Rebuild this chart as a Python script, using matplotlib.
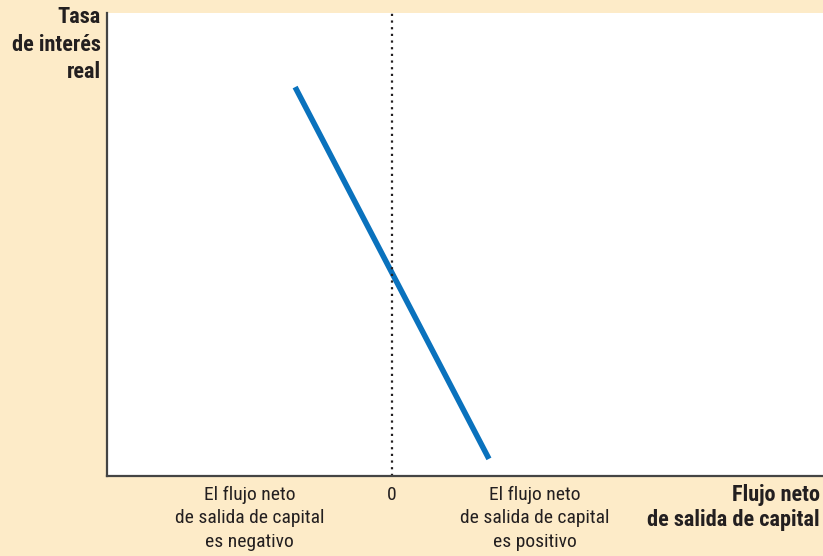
import matplotlib
matplotlib.use("Agg")
import matplotlib.pyplot as plt
from matplotlib import font_manager

# === Data ===
net_outflow = [-0.34, 0.34]
real_rate = [8.4, 0.37]
tick_pos = [-0.5, 0, 0.5]
tick_labels = ["El flujo neto\nde salida de capital\nes negativo", "0",
               "El flujo neto\nde salida de capital\nes positivo"]

BG = "#fdebc8"
BLUE = "#0a72bd"
AXIS = "#444444"
TEXT = "#231f20"

names = {f.name for f in font_manager.fontManager.ttflist}
FONT = "DejaVu Sans"
for cand in ["Roboto Condensed", "Liberation Sans Narrow", "Open Sans Condensed", "Roboto"]:
    if cand in names:
        FONT = cand
        break
plt.rcParams["font.family"] = [FONT, "DejaVu Sans"]

fig = plt.figure(figsize=(8.23, 5.56), dpi=100, facecolor=BG)
ax = fig.add_axes([107 / 823, 1 - 476 / 556, (823 - 107) / 823, (476 - 13) / 556])
ax.set_facecolor("white")

ax.plot(net_outflow, real_rate, color=BLUE, lw=4, solid_capstyle="butt")
ax.axvline(0, color=TEXT, lw=1.6, ls=(0, (1, 2)))

ax.set_xlim(-1, 1.512)
ax.set_ylim(0, 10)
ax.set_xticks(tick_pos)
ax.set_xticklabels(tick_labels, fontsize=14, color=TEXT, linespacing=1.4, va="top")
ax.tick_params(axis="x", length=0, pad=7)
ax.set_yticks([])

for side in ["top", "right"]:
    ax.spines[side].set_visible(False)
for side in ["left", "bottom"]:
    ax.spines[side].set_color(AXIS)
    ax.spines[side].set_linewidth(1.6)

fig.text(101 / 823, 1 - 6 / 556, "Tasa\nde interés\nreal", ha="right", va="top",
         fontsize=16, fontweight="bold", color=TEXT, linespacing=1.33)
fig.text(820 / 823, 1 - 484 / 556, "Flujo neto\nde salida de capital", ha="right", va="top",
         fontsize=16, fontweight="bold", color=TEXT, linespacing=1.2, multialignment="right")

fig.savefig("out.png", dpi=100, facecolor=BG)
